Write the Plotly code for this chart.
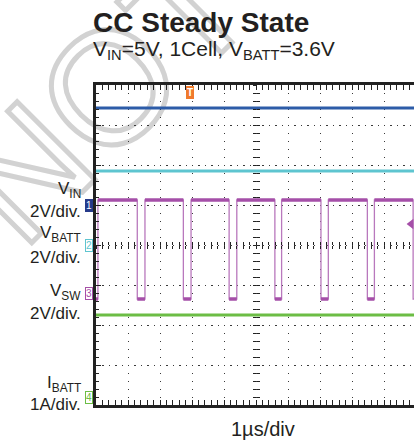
import base64
import plotly.graph_objects as go

# ---- scope data (time in us, volts / amps) ----
x_span_div = 9.9375              # visible part of the 10 div screen
y_divs = 8

channels = ["VIN", "VBATT", "VSW", "IBATT"]
ch_scale = [2.0, 2.0, 2.0, 1.0]         # units per division
ch_ground = [5.0, 4.0, 2.8, 0.2]        # ground marker position (div from bottom)
ch_colors = ["#2d5ca8", "#5ec5d0", "#a54fa8", "#6cbd45"]

vin_t = [0.0, 9.9375]
vin_v = [4.85, 4.85]
vbatt_t = [0.0, 9.9375]
vbatt_v = [3.7, 3.7]
ibatt_t = [0.0, 9.9375]
ibatt_a = [2.05, 2.05]

# switch node edges
vsw_rise = [0.06, 1.53, 2.97, 4.40, 5.80, 7.26, 8.70]
vsw_fall = [1.29, 2.73, 4.16, 5.59, 7.03, 8.48, 9.91]
vsw_high = 4.65
vsw_low = -0.3
vsw_trig_level = 3.45
trig_time = 2.94

W, H = 414, 441
L, T, B = 96, 85, 36
PW, PH = W - L, H - T - B


def px(x):
    return (x - L) / PW


def py(y):
    return (H - B - y) / PH


# build the stepped switching waveform from the edge times
sw_t, sw_v = [0.0], [vsw_low]
hi_t, hi_v, lo_t, lo_v = [], [], [0.0, vsw_rise[0], None], [vsw_low, vsw_low, None]
for i, r in enumerate(vsw_rise):
    f = vsw_fall[i]
    sw_t += [r, r, f, f]
    sw_v += [vsw_low, vsw_high, vsw_high, vsw_low]
    hi_t += [r, f, None]
    hi_v += [vsw_high, vsw_high, None]
    if i + 1 < len(vsw_rise):
        lo_t += [f, vsw_rise[i + 1], None]
        lo_v += [vsw_low, vsw_low, None]
sw_t.append(x_span_div)
sw_v.append(vsw_low)

fig = go.Figure()

# empty traces so the graticule axes own a subplot
for xa, ya in [("x", "y"), ("x2", "y"), ("x3", "y"), ("x", "y6"), ("x", "y7")]:
    fig.add_trace(go.Scatter(x=[None], y=[None], xaxis=xa, yaxis=ya, mode="lines"))

fig.add_trace(go.Scatter(x=vin_t, y=vin_v, mode="lines", yaxis="y2",
                         line=dict(color=ch_colors[0], width=3)))
fig.add_trace(go.Scatter(x=vbatt_t, y=vbatt_v, mode="lines", yaxis="y3",
                         line=dict(color=ch_colors[1], width=3)))
fig.add_trace(go.Scatter(x=sw_t, y=sw_v, mode="lines", yaxis="y4",
                         line=dict(color="#b978bd", width=1.3)))
fig.add_trace(go.Scatter(x=hi_t, y=hi_v, mode="lines", yaxis="y4",
                         line=dict(color=ch_colors[2], width=3.5)))
fig.add_trace(go.Scatter(x=lo_t, y=lo_v, mode="lines", yaxis="y4",
                         line=dict(color=ch_colors[2], width=3.5)))
fig.add_trace(go.Scatter(x=ibatt_t, y=ibatt_a, mode="lines", yaxis="y5",
                         line=dict(color=ch_colors[3], width=3)))

# trigger level arrow on the right
fig.add_trace(go.Scatter(x=[x_span_div - 0.09], y=[vsw_trig_level], mode="markers", yaxis="y4",
                         marker=dict(symbol="triangle-left", size=9, color=ch_colors[2]),
                         cliponaxis=False))

# ground markers: small arrow tips at each channel's 0
for i in range(4):
    fig.add_trace(go.Scatter(x=[-0.06], y=[0], mode="markers", yaxis="y%d" % (i + 2),
                             marker=dict(symbol="triangle-right", size=6,
                                         color="#263a8a" if i == 0 else ch_colors[i]),
                             cliponaxis=False))

fig.update_traces(showlegend=False, hoverinfo="skip")

axis_dark = "#222222"
grid_c = "#3a3a3a"
fig.update_layout(
    width=W, height=H,
    margin=dict(l=L, r=0, t=T, b=B),
    paper_bgcolor="white", plot_bgcolor="white",
    xaxis=dict(range=[0, x_span_div], dtick=1, showticklabels=False,
               showgrid=True, gridcolor=grid_c, gridwidth=1, griddash="1.4px,6.6px",
               showline=True, linecolor=axis_dark, linewidth=3, mirror="allticks",
               ticks="inside", ticklen=5, tickcolor=axis_dark,
               minor=dict(dtick=0.2, ticks="inside", ticklen=3, tickcolor=axis_dark),
               zeroline=False, fixedrange=True),
    yaxis=dict(range=[0, y_divs], dtick=1, showticklabels=False,
               showgrid=True, gridcolor=grid_c, gridwidth=1, griddash="1.4px,5px",
               showline=True, linecolor=axis_dark, linewidth=3,
               ticks="inside", ticklen=5, tickcolor=axis_dark,
               minor=dict(dtick=0.2, ticks="inside", ticklen=3, tickcolor=axis_dark),
               zeroline=False, fixedrange=True),
)

# one bare axis per channel, set by volts/div and ground position
for i in range(4):
    lo = -ch_ground[i] * ch_scale[i]
    hi = (y_divs - ch_ground[i]) * ch_scale[i]
    fig.update_layout({"yaxis%d" % (i + 2): dict(range=[lo, hi], overlaying="y",
                                                   showline=False, showgrid=False,
                                                   zeroline=False, showticklabels=False,
                                                   ticks="", fixedrange=True)})

# centre graticule lines carry small tick marks on both sides
centre_tick = dict(dtick=0.2, showticklabels=False, showgrid=False, showline=False,
                   zeroline=False, ticklen=3, tickcolor=axis_dark, fixedrange=True)
fig.update_layout(
    xaxis2=dict(range=[0, x_span_div], overlaying="x", anchor="free", position=0.5,
                ticks="inside", **centre_tick),
    xaxis3=dict(range=[0, x_span_div], overlaying="x", anchor="free", position=0.5,
                ticks="outside", **centre_tick),
    yaxis6=dict(range=[0, y_divs], overlaying="y", anchor="free", position=5 / x_span_div,
                ticks="inside", **centre_tick),
    yaxis7=dict(range=[0, y_divs], overlaying="y", anchor="free", position=5 / x_span_div,
                ticks="outside", **centre_tick),
)

font = "Liberation Sans, Arial, sans-serif"
txt = "#231f20"
ann = [
    dict(text="<b>CC Steady State</b>", x=px(91), y=py(23), xanchor="left", yanchor="middle",
         font=dict(size=28, color=txt)),
    dict(text="V<sub>IN</sub>=5V, 1Cell, V<sub>BATT</sub>=3.6V", x=px(91), y=py(50),
         xanchor="left", yanchor="middle", font=dict(size=21, color=txt)),
    dict(text="1\u00b5s/div", x=px(263), y=py(429), xanchor="center", yanchor="middle",
         font=dict(size=20, color=txt)),
]

# channel labels on the left
ch_label = ["V<sub>IN</sub>", "V<sub>BATT</sub>", "V<sub>SW</sub>", "I<sub>BATT</sub>"]
ch_unit = ["2V/div.", "2V/div.", "2V/div.", "1A/div."]
label_y = [190, 234, 292, 384]
unit_y = [211, 257, 313, 404]
for i in range(4):
    ann.append(dict(text=ch_label[i], x=px(83), y=py(label_y[i]), xanchor="right",
                    yanchor="middle", font=dict(size=17, color=txt)))
    ann.append(dict(text=ch_unit[i], x=px(83), y=py(unit_y[i]), xanchor="right",
                    yanchor="middle", font=dict(size=17, color=txt)))
    # channel number tag at ground level
    ann.append(dict(text=str(i + 1), x=px(89), y=0, yref="y%d" % (i + 2), xanchor="center",
                    yanchor="middle", font=dict(size=10, color="white" if i == 0 else ch_colors[i]),
                    bgcolor="#263a8a" if i == 0 else "white",
                    bordercolor="#263a8a" if i == 0 else ch_colors[i],
                    borderwidth=1, borderpad=0))

# trigger position marker
ann.append(dict(text="<b>T</b>", x=trig_time, xref="x", y=py(86), yanchor="top", xanchor="center",
                font=dict(size=10, color="white"), bgcolor="#f07a2c", bordercolor="#f07a2c",
                borderwidth=1, borderpad=0))

for a in ann:
    a.setdefault("xref", "paper")
    a.setdefault("yref", "paper")
    a["showarrow"] = False
    a["font"]["family"] = font
fig.update_layout(annotations=ann)

# faint outlined watermark behind the plot
svg = ('<svg xmlns="http://www.w3.org/2000/svg" width="414" height="441" viewBox="0 0 414 441">'
       '<g transform="translate(106,88) rotate(-45)">'
       '<text x="-175" y="57" font-family="Liberation Sans, Arial" '
       'font-size="160" fill="none" stroke="#d2d2d2" stroke-width="5">NOT</text></g></svg>')
src = "data:image/svg+xml;base64," + base64.b64encode(svg.encode()).decode()
fig.add_layout_image(dict(source=src, xref="paper", yref="paper", x=px(0), y=py(0),
                          sizex=W / PW, sizey=H / PH, xanchor="left", yanchor="top",
                          sizing="stretch", layer="below"))

fig.write_html("out.html", config={"displayModeBar": False},
               post_script="document.body.style.margin='0px';")
